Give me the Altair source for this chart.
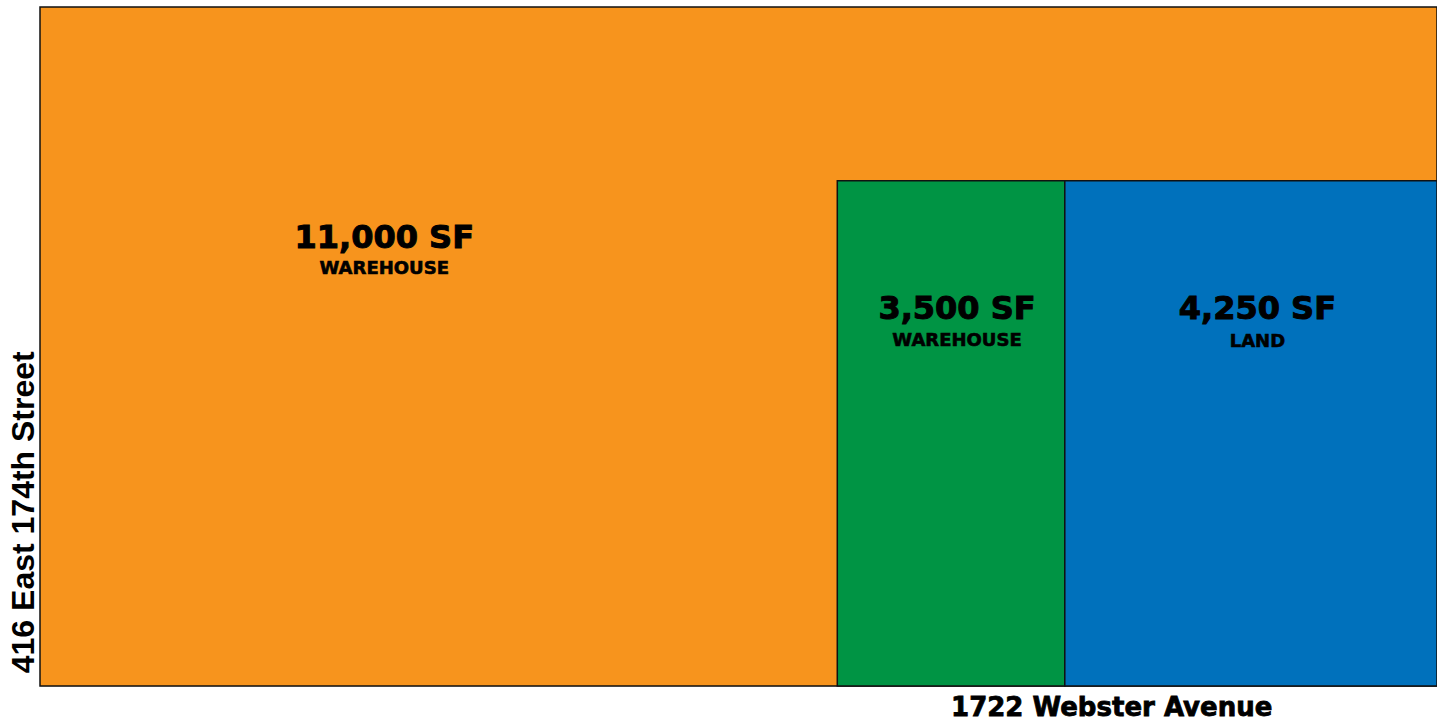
import altair as alt
import pandas as pd

# Parcel layout (site units)
parcels = ["Warehouse 11,000", "Warehouse 3,500", "Land 4,250"]
x_start = [0, 79.9, 102.7]
x_end = [140, 102.7, 140]
y_start = [0, 0, 0]
y_end = [68, 50.6, 50.6]
fills = ["#F7941D", "#009444", "#0071BC"]

# Labels
area_labels = ["11,000 SF", "3,500 SF", "4,250 SF"]
use_labels = ["WAREHOUSE", "WAREHOUSE", "LAND"]
label_x = [34.5, 91.9, 122.0]
area_y = [44.9, 37.8, 37.8]
use_y = [41.8, 34.6, 34.5]

street_bottom = "1722 Webster Avenue"
street_left = "416 East 174th Street"

rects = pd.DataFrame({"parcel": parcels, "x": x_start, "x2": x_end,
                      "y": y_start, "y2": y_end, "fill": fills})
labels = pd.DataFrame({"area": area_labels, "use": use_labels, "x": label_x,
                       "ay": area_y, "uy": use_y})
bottom = pd.DataFrame({"t": [street_bottom], "x": [107.4], "y": [-2.2]})
left = pd.DataFrame({"t": [street_left], "x": [-0.65], "y": [17.4]})

xs = alt.Scale(domain=[0, 140], nice=False, zero=False)
ys = alt.Scale(domain=[0, 68], nice=False, zero=False)
X = lambda f: alt.X(f, type="quantitative", scale=xs, axis=None)
Y = lambda f: alt.Y(f, type="quantitative", scale=ys, axis=None)

font = "DejaVu Sans"

rect_layer = alt.Chart(rects).mark_rect(stroke="#111111", strokeWidth=1.5).encode(
    x=X("x"), x2="x2", y=Y("y"), y2="y2",
    fill=alt.Fill("fill:N", scale=None),
)

area_layer = alt.Chart(labels).mark_text(
    font=font, fontWeight="bold", fontSize=32, color="#000000", stroke="#000000",
    strokeWidth=1.0, align="center", baseline="middle"
).encode(x=X("x"), y=Y("ay"), text="area:N")

use_layer = alt.Chart(labels).mark_text(
    font=font, fontWeight="bold", fontSize=18, color="#000000", stroke="#000000",
    strokeWidth=0.6, align="center", baseline="middle"
).encode(x=X("x"), y=Y("uy"), text="use:N")

bottom_layer = alt.Chart(bottom).mark_text(
    font=font, fontWeight="bold", fontSize=26, color="#000000", stroke="#000000",
    strokeWidth=0.8, align="center", baseline="middle"
).encode(x=X("x"), y=Y("y"), text="t:N")

left_layer = alt.Chart(left).mark_text(
    font="Liberation Sans", fontWeight="bold", fontSize=32, color="#000000",
    align="center", baseline="alphabetic", angle=270
).encode(x=X("x"), y=Y("y"), text="t:N")

chart = alt.layer(rect_layer, area_layer, use_layer, bottom_layer, left_layer).properties(
    width=1397, height=679,
    autosize=alt.AutoSizeParams(type="none"),
    padding={"left": 40, "top": 7, "right": 0, "bottom": 37},
).configure_view(stroke=None).configure(background="#ffffff")

chart.save("out.html", embed_options={"renderer": "svg", "actions": False})

with open("out.html", encoding="utf-8") as fh:
    html = fh.read()
html = html.replace("<head>", "<head><style>html,body{margin:0;padding:0;overflow:hidden}</style>", 1)
with open("out.html", "w", encoding="utf-8") as fh:
    fh.write(html)
